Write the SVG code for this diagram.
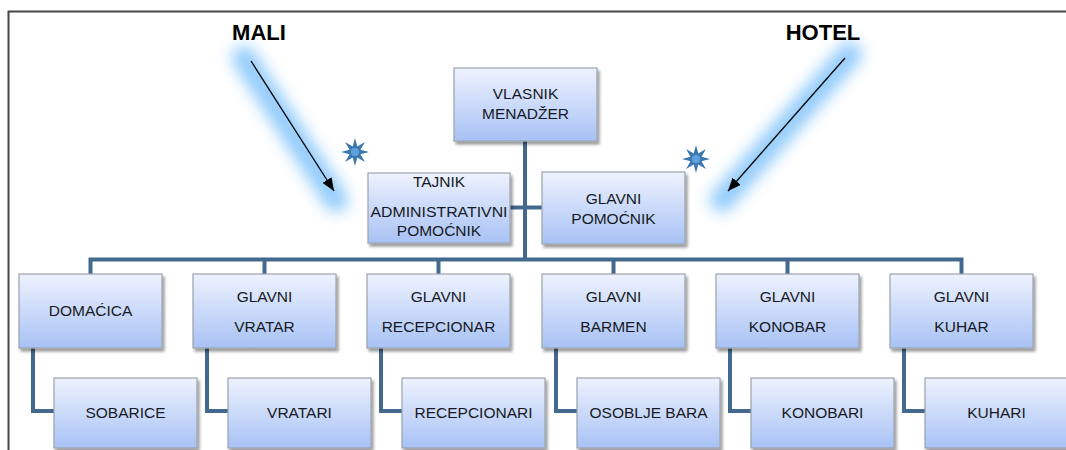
<svg xmlns="http://www.w3.org/2000/svg" width="1066" height="450" viewBox="0 0 1066 450">
  <defs>
    <linearGradient id="boxGrad" x1="0" y1="0" x2="0" y2="1">
      <stop offset="0" stop-color="#eef2fe"/>
      <stop offset="1" stop-color="#a8c2f5"/>
    </linearGradient>
    <filter id="shadow" x="-10%" y="-10%" width="125%" height="130%">
      <feGaussianBlur in="SourceAlpha" stdDeviation="1.5"/>
      <feOffset dx="2" dy="2.5" result="b"/>
      <feComponentTransfer><feFuncA type="linear" slope="0.4"/></feComponentTransfer>
      <feMerge><feMergeNode/><feMergeNode in="SourceGraphic"/></feMerge>
    </filter>
    <filter id="glow" x="-60%" y="-60%" width="220%" height="220%">
      <feGaussianBlur stdDeviation="7.5"/>
    </filter>
    <marker id="arrowHead" viewBox="0 0 12 10" refX="12" refY="5" markerWidth="13" markerHeight="11" markerUnits="userSpaceOnUse" orient="auto">
      <path d="M0,0 L12,5 L0,10 Z" fill="#000"/>
    </marker>
    <g id="star">
      <polygon points="0,-14 2.3,-5.54 9.9,-9.9 5.54,-2.3 14,0 5.54,2.3 9.9,9.9 2.3,5.54 0,14 -2.3,5.54 -9.9,9.9 -5.54,2.3 -14,0 -5.54,-2.3 -9.9,-9.9 -2.3,-5.54" fill="#3c77ae"/>
      <circle r="4.2" fill="#5da2de"/>
    </g>
    <style>
      .box { fill: url(#boxGrad); stroke: #9ba2ae; stroke-width: 1.2; filter: url(#shadow); }
      .lbl { font-family: "Liberation Sans", Arial, sans-serif; font-size: 15.5px; fill: #171a24; text-anchor: middle; }
      .title { font-family: "Liberation Sans", Arial, sans-serif; font-size: 22px; font-weight: bold; fill: #000; text-anchor: middle; }
      .conn { fill: none; stroke: #44698f; stroke-width: 4; stroke-linejoin: miter; }
      .arrow { stroke: #000; stroke-width: 1.3; fill: none; }
      .glowline { stroke: #86c6fb; stroke-width: 24; stroke-linecap: round; filter: url(#glow); opacity: 0.9; }
    </style>
  </defs>

  <rect x="0" y="0" width="1066" height="450" fill="#ffffff"/>
  <!-- frame -->
  <path d="M8.5,450 V11.5 H1066" fill="none" stroke="#474747" stroke-width="2"/>

  <!-- glows, stars, arrows -->
  <g id="annotations">
    <line class="glowline" x1="244" y1="58" x2="336" y2="200"/>
    <line class="glowline" x1="850" y1="54" x2="722" y2="200"/>
    <line class="arrow" x1="251" y1="61" x2="334" y2="191" marker-end="url(#arrowHead)"/>
    <line class="arrow" x1="845" y1="58" x2="728" y2="191" marker-end="url(#arrowHead)"/>
    <use href="#star" x="355" y="152"/>
    <use href="#star" x="696" y="159"/>
    <text class="title" x="259" y="40">MALI</text>
    <text class="title" x="823" y="40">HOTEL</text>
  </g>

  <!-- connectors -->
  <g id="connectors">
    <path class="conn" d="M525,141 V259"/>
    <path class="conn" d="M510,207.5 H542"/>
    <path class="conn" d="M90.5,275 V259.5 H961.5 V275 M264.5,259.5 V275 M438.5,259.5 V275 M613.5,259.5 V275 M787.5,259.5 V275"/>
    <path class="conn" d="M33,348 V411 H54"/>
    <path class="conn" d="M207,348 V411 H228"/>
    <path class="conn" d="M381,348 V411 H402"/>
    <path class="conn" d="M556,348 V411 H577"/>
    <path class="conn" d="M730,348 V411 H751"/>
    <path class="conn" d="M904,348 V411 H925"/>
  </g>

  <!-- top level -->
  <g id="vlasnik">
    <rect class="box" x="454" y="68" width="143" height="73"/>
    <text class="lbl" x="525.5" y="99">VLASNIK</text>
    <text class="lbl" x="525.5" y="119">MENADŽER</text>
  </g>
  <g id="tajnik">
    <rect class="box" x="368" y="173" width="142" height="70"/>
    <text class="lbl" x="439" y="187">TAJNIK</text>
    <text class="lbl" x="439" y="217" textLength="137" lengthAdjust="spacingAndGlyphs">ADMINISTRATIVNI</text>
    <text class="lbl" x="439" y="236">POMOĆNIK</text>
  </g>
  <g id="glavni-pomocnik">
    <rect class="box" x="542" y="172" width="143" height="72"/>
    <text class="lbl" x="613.5" y="204">GLAVNI</text>
    <text class="lbl" x="613.5" y="224">POMOĆNIK</text>
  </g>

  <!-- department heads -->
  <g id="domacica">
    <rect class="box" x="19" y="274" width="143" height="74"/>
    <text class="lbl" x="90.5" y="316">DOMAĆICA</text>
  </g>
  <g id="glavni-vratar">
    <rect class="box" x="193" y="274" width="143" height="74"/>
    <text class="lbl" x="264.5" y="302">GLAVNI</text>
    <text class="lbl" x="264.5" y="332">VRATAR</text>
  </g>
  <g id="glavni-recepcionar">
    <rect class="box" x="367" y="274" width="143" height="74"/>
    <text class="lbl" x="438.5" y="302">GLAVNI</text>
    <text class="lbl" x="438.5" y="332">RECEPCIONAR</text>
  </g>
  <g id="glavni-barmen">
    <rect class="box" x="542" y="274" width="143" height="74"/>
    <text class="lbl" x="613.5" y="302">GLAVNI</text>
    <text class="lbl" x="613.5" y="332">BARMEN</text>
  </g>
  <g id="glavni-konobar">
    <rect class="box" x="716" y="274" width="143" height="74"/>
    <text class="lbl" x="787.5" y="302">GLAVNI</text>
    <text class="lbl" x="787.5" y="332">KONOBAR</text>
  </g>
  <g id="glavni-kuhar">
    <rect class="box" x="890" y="274" width="143" height="74"/>
    <text class="lbl" x="961.5" y="302">GLAVNI</text>
    <text class="lbl" x="961.5" y="332">KUHAR</text>
  </g>

  <!-- staff -->
  <g id="sobarice">
    <rect class="box" x="54" y="378" width="143" height="70"/>
    <text class="lbl" x="125.5" y="418">SOBARICE</text>
  </g>
  <g id="vratari">
    <rect class="box" x="228" y="378" width="143" height="70"/>
    <text class="lbl" x="299.5" y="418">VRATARI</text>
  </g>
  <g id="recepcionari">
    <rect class="box" x="402" y="378" width="143" height="70"/>
    <text class="lbl" x="473.5" y="418">RECEPCIONARI</text>
  </g>
  <g id="osoblje-bara">
    <rect class="box" x="577" y="378" width="143" height="70"/>
    <text class="lbl" x="648.5" y="418">OSOBLJE BARA</text>
  </g>
  <g id="konobari">
    <rect class="box" x="751" y="378" width="143" height="70"/>
    <text class="lbl" x="822.5" y="418">KONOBARI</text>
  </g>
  <g id="kuhari">
    <rect class="box" x="925" y="378" width="143" height="70"/>
    <text class="lbl" x="996.5" y="418">KUHARI</text>
  </g>
</svg>
